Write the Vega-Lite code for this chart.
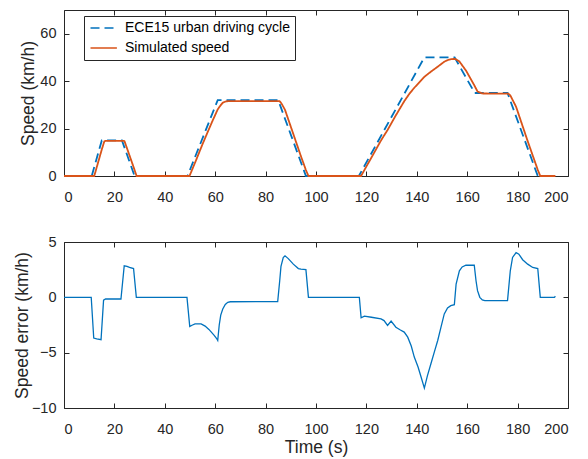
{
  "$schema": "https://vega.github.io/schema/vega-lite/v6.json",
  "background": "white",
  "padding": {"left": 12, "top": 9, "right": 5, "bottom": 5},
  "bounds": "flush",
  "spacing": 66,
  "config": {
    "font": "Liberation Sans",
    "view": {"stroke": "#262626", "strokeWidth": 1},
    "axis": {
      "domain": false, "grid": false,
      "tickColor": "#262626", "tickSize": -5, "tickWidth": 1,
      "labelColor": "#262626", "labelFont": "Liberation Sans", "labelFontSize": 14.5,
      "titleFont": "Liberation Sans", "titleFontSize": 17.5, "titleFontWeight": "normal", "titleColor": "#262626"
    },
    "legend": {
      "title": null, "orient": "none", "legendX": 20, "legendY": 6,
      "symbolType": "M-1,0H3.8", "symbolSize": 121, "symbolStrokeWidth": 1.6,
      "labelFontSize": 14, "labelColor": "#000000", "labelOffset": 22, "labelLimit": 400,
      "padding": 5, "rowPadding": 6, "strokeColor": "#262626", "fillColor": "white", "cornerRadius": 0
    }
  },
  "datasets": {
    "speed": [
      {"t": 0, "v": 0, "s": "ECE15 urban driving cycle"},
      {"t": 11, "v": 0, "s": "ECE15 urban driving cycle"},
      {"t": 15, "v": 15, "s": "ECE15 urban driving cycle"},
      {"t": 23, "v": 15, "s": "ECE15 urban driving cycle"},
      {"t": 28, "v": 0, "s": "ECE15 urban driving cycle"},
      {"t": 49, "v": 0, "s": "ECE15 urban driving cycle"},
      {"t": 61, "v": 32, "s": "ECE15 urban driving cycle"},
      {"t": 85, "v": 32, "s": "ECE15 urban driving cycle"},
      {"t": 96, "v": 0, "s": "ECE15 urban driving cycle"},
      {"t": 117, "v": 0, "s": "ECE15 urban driving cycle"},
      {"t": 143, "v": 50, "s": "ECE15 urban driving cycle"},
      {"t": 155, "v": 50, "s": "ECE15 urban driving cycle"},
      {"t": 163, "v": 35, "s": "ECE15 urban driving cycle"},
      {"t": 176, "v": 35, "s": "ECE15 urban driving cycle"},
      {"t": 188, "v": 0, "s": "ECE15 urban driving cycle"},
      {"t": 195, "v": 0, "s": "ECE15 urban driving cycle"},
      {"t": 0, "v": 0, "s": "Simulated speed"},
      {"t": 12, "v": 0, "s": "Simulated speed"},
      {"t": 15, "v": 11.2, "s": "Simulated speed"},
      {"t": 16, "v": 14.6, "s": "Simulated speed"},
      {"t": 16.5, "v": 14.85, "s": "Simulated speed"},
      {"t": 23.5, "v": 14.85, "s": "Simulated speed"},
      {"t": 24, "v": 14.7, "s": "Simulated speed"},
      {"t": 27.6, "v": 3.8, "s": "Simulated speed"},
      {"t": 28.8, "v": 0, "s": "Simulated speed"},
      {"t": 49.8, "v": 0, "s": "Simulated speed"},
      {"t": 52, "v": 5.6, "s": "Simulated speed"},
      {"t": 55, "v": 13.5, "s": "Simulated speed"},
      {"t": 57, "v": 18.5, "s": "Simulated speed"},
      {"t": 59, "v": 23.4, "s": "Simulated speed"},
      {"t": 61, "v": 28.1, "s": "Simulated speed"},
      {"t": 62, "v": 29.6, "s": "Simulated speed"},
      {"t": 63, "v": 30.9, "s": "Simulated speed"},
      {"t": 64, "v": 31.4, "s": "Simulated speed"},
      {"t": 65, "v": 31.55, "s": "Simulated speed"},
      {"t": 66, "v": 31.6, "s": "Simulated speed"},
      {"t": 85.5, "v": 31.6, "s": "Simulated speed"},
      {"t": 86.3, "v": 30.6, "s": "Simulated speed"},
      {"t": 87.7, "v": 27.9, "s": "Simulated speed"},
      {"t": 90, "v": 20.8, "s": "Simulated speed"},
      {"t": 94, "v": 8.4, "s": "Simulated speed"},
      {"t": 96, "v": 2.5, "s": "Simulated speed"},
      {"t": 97, "v": 0, "s": "Simulated speed"},
      {"t": 117.9, "v": 0, "s": "Simulated speed"},
      {"t": 119.2, "v": 2.5, "s": "Simulated speed"},
      {"t": 122, "v": 7.8, "s": "Simulated speed"},
      {"t": 125.8, "v": 15.0, "s": "Simulated speed"},
      {"t": 128.4, "v": 19.4, "s": "Simulated speed"},
      {"t": 131.7, "v": 25.6, "s": "Simulated speed"},
      {"t": 135, "v": 31.5, "s": "Simulated speed"},
      {"t": 137, "v": 34.6, "s": "Simulated speed"},
      {"t": 139, "v": 37.2, "s": "Simulated speed"},
      {"t": 141.7, "v": 40.3, "s": "Simulated speed"},
      {"t": 143, "v": 41.8, "s": "Simulated speed"},
      {"t": 145.6, "v": 44.0, "s": "Simulated speed"},
      {"t": 148.3, "v": 46.1, "s": "Simulated speed"},
      {"t": 150.9, "v": 48.2, "s": "Simulated speed"},
      {"t": 152.5, "v": 49.0, "s": "Simulated speed"},
      {"t": 154.5, "v": 49.4, "s": "Simulated speed"},
      {"t": 155.6, "v": 49.2, "s": "Simulated speed"},
      {"t": 156.9, "v": 48.3, "s": "Simulated speed"},
      {"t": 159.5, "v": 44.5, "s": "Simulated speed"},
      {"t": 162.8, "v": 38.3, "s": "Simulated speed"},
      {"t": 164.1, "v": 35.6, "s": "Simulated speed"},
      {"t": 166, "v": 34.8, "s": "Simulated speed"},
      {"t": 176.3, "v": 34.7, "s": "Simulated speed"},
      {"t": 177.1, "v": 34.0, "s": "Simulated speed"},
      {"t": 179.4, "v": 29.2, "s": "Simulated speed"},
      {"t": 184, "v": 14.7, "s": "Simulated speed"},
      {"t": 188, "v": 2.6, "s": "Simulated speed"},
      {"t": 189, "v": 0, "s": "Simulated speed"},
      {"t": 195, "v": 0, "s": "Simulated speed"}
    ],
    "err": [
      {"t": 0, "e": 0}, {"t": 10.8, "e": 0}, {"t": 11.8, "e": -3.68}, {"t": 13, "e": -3.75},
      {"t": 14.7, "e": -3.83}, {"t": 15.7, "e": -0.25}, {"t": 16.5, "e": -0.15}, {"t": 22.6, "e": -0.15},
      {"t": 23.9, "e": 2.85}, {"t": 25, "e": 2.8}, {"t": 26, "e": 2.7}, {"t": 27.6, "e": 2.6},
      {"t": 28.7, "e": 0}, {"t": 48.8, "e": 0}, {"t": 49.9, "e": -2.63}, {"t": 51, "e": -2.5},
      {"t": 52, "e": -2.4}, {"t": 54.4, "e": -2.4}, {"t": 56, "e": -2.6}, {"t": 57.5, "e": -2.9},
      {"t": 59.6, "e": -3.44}, {"t": 60.5, "e": -3.7}, {"t": 61, "e": -3.9}, {"t": 61.6, "e": -2.5},
      {"t": 62.2, "e": -1.6}, {"t": 63, "e": -1.05}, {"t": 64, "e": -0.65}, {"t": 65, "e": -0.45},
      {"t": 66, "e": -0.4}, {"t": 84.8, "e": -0.39}, {"t": 85.6, "e": 1.5}, {"t": 86.1, "e": 2.8},
      {"t": 87, "e": 3.6}, {"t": 87.7, "e": 3.75}, {"t": 89, "e": 3.5}, {"t": 91, "e": 3.0},
      {"t": 93, "e": 2.6}, {"t": 94, "e": 2.55}, {"t": 96, "e": 2.5}, {"t": 97, "e": 0},
      {"t": 117.2, "e": 0}, {"t": 117.9, "e": -1.85}, {"t": 119.2, "e": -1.7}, {"t": 122, "e": -1.8},
      {"t": 125.8, "e": -1.95}, {"t": 127, "e": -2.1}, {"t": 128.4, "e": -2.54}, {"t": 129.8, "e": -2.15},
      {"t": 131.7, "e": -2.7}, {"t": 133.5, "e": -2.95}, {"t": 135, "e": -3.14}, {"t": 136.4, "e": -3.6},
      {"t": 137.8, "e": -4.4}, {"t": 139, "e": -5.4}, {"t": 140.5, "e": -6.3}, {"t": 141.7, "e": -7.2},
      {"t": 143, "e": -8.2}, {"t": 144.2, "e": -7.1}, {"t": 145.6, "e": -6.0}, {"t": 147, "e": -4.9},
      {"t": 148.3, "e": -3.9}, {"t": 149.6, "e": -2.7}, {"t": 150.9, "e": -1.5}, {"t": 152.2, "e": -0.96},
      {"t": 153.5, "e": -0.75}, {"t": 154.9, "e": -0.66}, {"t": 155.6, "e": 1.2}, {"t": 156.9, "e": 2.4},
      {"t": 158, "e": 2.75}, {"t": 159.5, "e": 2.9}, {"t": 162.8, "e": 2.9}, {"t": 163.5, "e": 1.5},
      {"t": 164.1, "e": 0.6}, {"t": 165, "e": 0.0}, {"t": 166, "e": -0.24}, {"t": 167, "e": -0.3},
      {"t": 176, "e": -0.3}, {"t": 177.1, "e": 2.4}, {"t": 178, "e": 3.6}, {"t": 179.4, "e": 4.05},
      {"t": 180.5, "e": 3.9}, {"t": 182, "e": 3.4}, {"t": 184, "e": 3.0}, {"t": 186, "e": 2.7},
      {"t": 188, "e": 2.6}, {"t": 189, "e": 0}, {"t": 194.6, "e": 0}, {"t": 195, "e": 0.1}
    ]
  },
  "vconcat": [
    {
      "width": 504,
      "height": 166,
      "data": {"name": "speed"},
      "layer": [
        {
          "mark": {"type": "line", "strokeWidth": 1.8},
          "encoding": {
            "x": {"field": "t", "type": "quantitative", "scale": {"domain": [0, 200], "nice": false},
                  "axis": {"orient": "bottom", "values": [0, 20, 40, 60, 80, 100, 120, 140, 160, 180, 200], "title": null, "labelPadding": 19}},
            "y": {"field": "v", "type": "quantitative", "scale": {"domain": [0, 70], "nice": false},
                  "axis": {"orient": "left", "values": [0, 20, 40, 60], "title": "Speed (km/h)", "labelPadding": 13,
                           "titleX": -31, "titleY": 83, "titleBaseline": "alphabetic", "titleAngle": -90, "titleAlign": "center"}},
            "color": {"field": "s", "type": "nominal",
                      "scale": {"domain": ["ECE15 urban driving cycle", "Simulated speed"], "range": ["#0072BD", "#D95319"]},
                      "legend": {"title": null}},
            "strokeDash": {"field": "s", "type": "nominal",
                           "scale": {"domain": ["ECE15 urban driving cycle", "Simulated speed"], "range": [[9, 5], [1, 0]]},
                           "legend": {"title": null}}
          }
        },
        {
          "mark": {"type": "line", "opacity": 0},
          "encoding": {
            "x": {"field": "t", "type": "quantitative",
                  "axis": {"orient": "top", "values": [0, 20, 40, 60, 80, 100, 120, 140, 160, 180, 200], "labels": false, "title": null}},
            "y": {"field": "v", "type": "quantitative",
                  "axis": {"orient": "right", "values": [0, 20, 40, 60], "labels": false, "title": null}},
            "detail": {"field": "s"}
          }
        }
      ],
      "resolve": {"axis": {"x": "independent", "y": "independent"}}
    },
    {
      "width": 504,
      "height": 166,
      "data": {"name": "err"},
      "layer": [
        {
          "mark": {"type": "line", "strokeWidth": 1.3, "color": "#0072BD"},
          "encoding": {
            "x": {"field": "t", "type": "quantitative", "scale": {"domain": [0, 200], "nice": false},
                  "axis": {"orient": "bottom", "values": [0, 20, 40, 60, 80, 100, 120, 140, 160, 180, 200], "title": "Time (s)", "labelPadding": 19,
                           "titleX": 252, "titleY": 44, "titleBaseline": "alphabetic", "titleAlign": "center"}},
            "y": {"field": "e", "type": "quantitative", "scale": {"domain": [-10, 5], "nice": false},
                  "axis": {"orient": "left", "values": [-10, -5, 0, 5], "title": "Speed error (km/h)", "labelPadding": 13,
                           "titleX": -37, "titleY": 83, "titleBaseline": "alphabetic", "titleAngle": -90, "titleAlign": "center"}}
          }
        },
        {
          "mark": {"type": "line", "opacity": 0},
          "encoding": {
            "x": {"field": "t", "type": "quantitative",
                  "axis": {"orient": "top", "values": [0, 20, 40, 60, 80, 100, 120, 140, 160, 180, 200], "labels": false, "title": null}},
            "y": {"field": "e", "type": "quantitative",
                  "axis": {"orient": "right", "values": [-10, -5, 0, 5], "labels": false, "title": null}}
          }
        }
      ],
      "resolve": {"axis": {"x": "independent", "y": "independent"}}
    }
  ]
}
